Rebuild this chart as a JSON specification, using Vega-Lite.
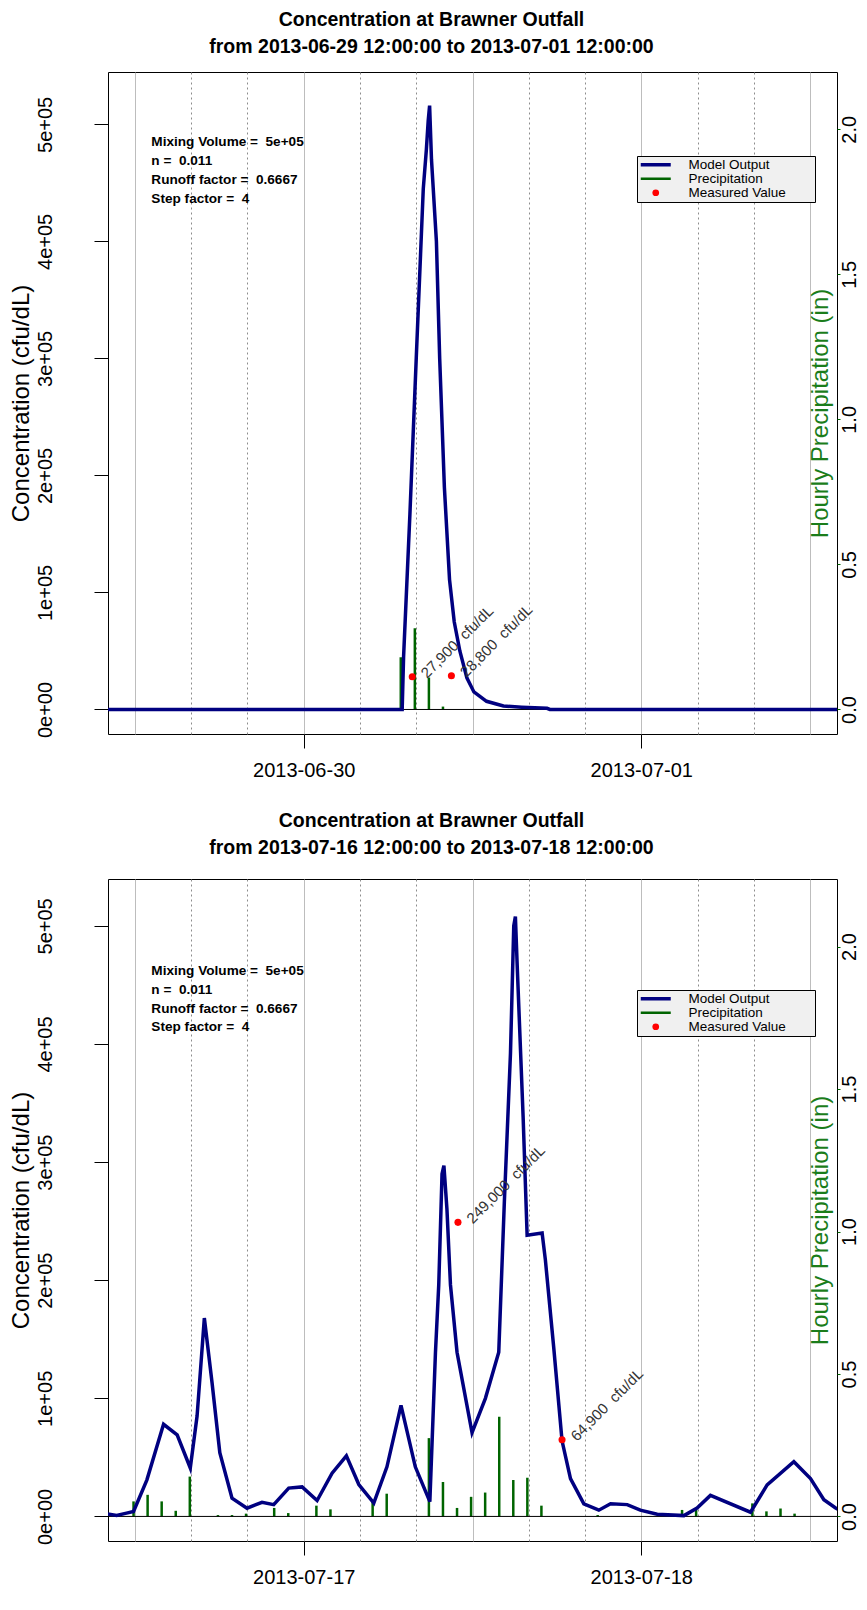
{
  "$schema": "https://vega.github.io/schema/vega-lite/v6.json",
  "background": "white",
  "padding": {"left": 8, "top": 9, "right": 4, "bottom": 4},
  "config": {
    "font": "Liberation Sans",
    "view": {"stroke": "black", "strokeWidth": 1},
    "axis": {"labelFont": "Liberation Sans", "titleFont": "Liberation Sans", "labelColor": "black", "titleColor": "black", "titleFontWeight": "normal", "labelFontSize": 20, "titleFontSize": 24, "tickColor": "black", "domain": false, "grid": false},
    "title": {"font": "Liberation Sans", "fontSize": 19.5, "fontWeight": "bold", "color": "black", "lineHeight": 27, "offset": 15, "anchor": "middle", "frame": "group", "dx": -41}
  },
  "datasets": {
    "one": [{}],
    "model1": [
      {"time": "2013-06-29T10:00:00", "conc": 0},
      {"time": "2013-06-30T07:00:00", "conc": 0},
      {"time": "2013-06-30T07:06:00", "conc": 45000},
      {"time": "2013-06-30T07:33:00", "conc": 167000},
      {"time": "2013-06-30T08:00:00", "conc": 300000},
      {"time": "2013-06-30T08:30:00", "conc": 445000},
      {"time": "2013-06-30T08:43:00", "conc": 478000},
      {"time": "2013-06-30T08:51:00", "conc": 503000},
      {"time": "2013-06-30T08:57:00", "conc": 516000},
      {"time": "2013-06-30T09:05:00", "conc": 470000},
      {"time": "2013-06-30T09:26:00", "conc": 400000},
      {"time": "2013-06-30T09:40:00", "conc": 300000},
      {"time": "2013-06-30T10:00:00", "conc": 190000},
      {"time": "2013-06-30T10:22:00", "conc": 111000},
      {"time": "2013-06-30T10:42:00", "conc": 75000},
      {"time": "2013-06-30T11:06:00", "conc": 50000},
      {"time": "2013-06-30T11:36:00", "conc": 27000},
      {"time": "2013-06-30T12:06:00", "conc": 15000},
      {"time": "2013-06-30T13:00:00", "conc": 7000},
      {"time": "2013-06-30T14:12:00", "conc": 3000},
      {"time": "2013-06-30T15:30:00", "conc": 2000},
      {"time": "2013-06-30T17:18:00", "conc": 1000},
      {"time": "2013-06-30T17:30:00", "conc": 0},
      {"time": "2013-07-01T14:00:00", "conc": 0}
    ],
    "precip1": [
      {"time": "2013-06-30T06:54:00", "precip": 0.18},
      {"time": "2013-06-30T07:54:00", "precip": 0.28},
      {"time": "2013-06-30T08:54:00", "precip": 0.11},
      {"time": "2013-06-30T09:54:00", "precip": 0.01}
    ],
    "meas1": [
      {"time": "2013-06-30T07:43:00", "conc": 27900, "label": "27,900\u00a0 cfu/dL"},
      {"time": "2013-06-30T10:30:00", "conc": 28800, "label": "28,800\u00a0 cfu/dL"}
    ],
    "model2": [
      {"time": "2013-07-16T10:00:00", "conc": 2300},
      {"time": "2013-07-16T10:42:00", "conc": 900},
      {"time": "2013-07-16T11:24:00", "conc": 2800},
      {"time": "2013-07-16T11:54:00", "conc": 4200},
      {"time": "2013-07-16T12:51:00", "conc": 31000},
      {"time": "2013-07-16T14:02:00", "conc": 78000},
      {"time": "2013-07-16T15:00:00", "conc": 69000},
      {"time": "2013-07-16T15:56:00", "conc": 41000},
      {"time": "2013-07-16T16:25:00", "conc": 85000},
      {"time": "2013-07-16T16:56:00", "conc": 168000},
      {"time": "2013-07-16T17:29:00", "conc": 113000},
      {"time": "2013-07-16T18:02:00", "conc": 54000},
      {"time": "2013-07-16T18:54:00", "conc": 15500},
      {"time": "2013-07-16T19:58:00", "conc": 7000},
      {"time": "2013-07-16T21:02:00", "conc": 12000},
      {"time": "2013-07-16T21:52:00", "conc": 10000},
      {"time": "2013-07-16T22:56:00", "conc": 24000},
      {"time": "2013-07-16T23:53:00", "conc": 25000},
      {"time": "2013-07-17T00:57:00", "conc": 13500},
      {"time": "2013-07-17T02:01:00", "conc": 36600},
      {"time": "2013-07-17T03:02:00", "conc": 51300},
      {"time": "2013-07-17T03:55:00", "conc": 27000},
      {"time": "2013-07-17T04:59:00", "conc": 11300},
      {"time": "2013-07-17T05:55:00", "conc": 42000},
      {"time": "2013-07-17T06:55:00", "conc": 94000},
      {"time": "2013-07-17T07:56:00", "conc": 42000},
      {"time": "2013-07-17T08:58:00", "conc": 12500},
      {"time": "2013-07-17T09:22:00", "conc": 139000},
      {"time": "2013-07-17T09:36:00", "conc": 196000},
      {"time": "2013-07-17T09:50:00", "conc": 290000},
      {"time": "2013-07-17T09:58:00", "conc": 297000},
      {"time": "2013-07-17T10:11:00", "conc": 260000},
      {"time": "2013-07-17T10:26:00", "conc": 196000},
      {"time": "2013-07-17T10:54:00", "conc": 139000},
      {"time": "2013-07-17T11:58:00", "conc": 71000},
      {"time": "2013-07-17T12:55:00", "conc": 100000},
      {"time": "2013-07-17T13:52:00", "conc": 139000},
      {"time": "2013-07-17T14:16:00", "conc": 267000},
      {"time": "2013-07-17T14:42:00", "conc": 392000},
      {"time": "2013-07-17T14:56:00", "conc": 500000},
      {"time": "2013-07-17T15:03:00", "conc": 508000},
      {"time": "2013-07-17T15:10:00", "conc": 470000},
      {"time": "2013-07-17T15:36:00", "conc": 338000},
      {"time": "2013-07-17T15:53:00", "conc": 238000},
      {"time": "2013-07-17T16:57:00", "conc": 240000},
      {"time": "2013-07-17T17:11:00", "conc": 217000},
      {"time": "2013-07-17T17:47:00", "conc": 142000},
      {"time": "2013-07-17T18:22:00", "conc": 64000},
      {"time": "2013-07-17T18:58:00", "conc": 32000},
      {"time": "2013-07-17T19:55:00", "conc": 10700},
      {"time": "2013-07-17T20:59:00", "conc": 5300},
      {"time": "2013-07-17T21:49:00", "conc": 10700},
      {"time": "2013-07-17T23:00:00", "conc": 10000},
      {"time": "2013-07-17T23:56:00", "conc": 5300},
      {"time": "2013-07-18T01:08:00", "conc": 1800},
      {"time": "2013-07-18T03:02:00", "conc": 700},
      {"time": "2013-07-18T03:58:00", "conc": 7100},
      {"time": "2013-07-18T04:55:00", "conc": 17800},
      {"time": "2013-07-18T07:46:00", "conc": 3600},
      {"time": "2013-07-18T08:57:00", "conc": 26700},
      {"time": "2013-07-18T10:51:00", "conc": 46300},
      {"time": "2013-07-18T12:02:00", "conc": 32000},
      {"time": "2013-07-18T12:59:00", "conc": 14200},
      {"time": "2013-07-18T13:49:00", "conc": 7100},
      {"time": "2013-07-18T14:00:00", "conc": 6000}
    ],
    "precip2": [
      {"time": "2013-07-16T11:54:00", "precip": 0.053},
      {"time": "2013-07-16T12:54:00", "precip": 0.076},
      {"time": "2013-07-16T13:54:00", "precip": 0.053},
      {"time": "2013-07-16T14:54:00", "precip": 0.02},
      {"time": "2013-07-16T15:54:00", "precip": 0.14},
      {"time": "2013-07-16T17:54:00", "precip": 0.005},
      {"time": "2013-07-16T18:54:00", "precip": 0.005},
      {"time": "2013-07-16T19:54:00", "precip": 0.01},
      {"time": "2013-07-16T21:54:00", "precip": 0.03},
      {"time": "2013-07-16T22:54:00", "precip": 0.012},
      {"time": "2013-07-17T00:54:00", "precip": 0.038},
      {"time": "2013-07-17T01:54:00", "precip": 0.025},
      {"time": "2013-07-17T04:54:00", "precip": 0.058},
      {"time": "2013-07-17T05:54:00", "precip": 0.08},
      {"time": "2013-07-17T08:54:00", "precip": 0.275},
      {"time": "2013-07-17T09:54:00", "precip": 0.121},
      {"time": "2013-07-17T10:54:00", "precip": 0.03},
      {"time": "2013-07-17T11:54:00", "precip": 0.069},
      {"time": "2013-07-17T12:54:00", "precip": 0.084},
      {"time": "2013-07-17T13:54:00", "precip": 0.35},
      {"time": "2013-07-17T14:54:00", "precip": 0.128},
      {"time": "2013-07-17T15:54:00", "precip": 0.136},
      {"time": "2013-07-17T16:54:00", "precip": 0.038},
      {"time": "2013-07-17T20:54:00", "precip": 0.005},
      {"time": "2013-07-18T02:54:00", "precip": 0.023},
      {"time": "2013-07-18T03:54:00", "precip": 0.023},
      {"time": "2013-07-18T07:54:00", "precip": 0.046},
      {"time": "2013-07-18T08:54:00", "precip": 0.018},
      {"time": "2013-07-18T09:54:00", "precip": 0.028},
      {"time": "2013-07-18T10:54:00", "precip": 0.01}
    ],
    "meas2": [
      {"time": "2013-07-17T10:58:00", "conc": 249000, "label": "249,000\u00a0 cfu/dL"},
      {"time": "2013-07-17T18:22:00", "conc": 64900, "label": "64,900\u00a0 cfu/dL"}
    ]
  },
  "resolve": {"scale": {"x": "independent", "y": "independent", "color": "independent"}, "legend": {"color": "independent"}},
  "spacing": 29,
  "vconcat": [
    {
      "width": 729,
      "height": 662,
      "title": {"text": ["Concentration at Brawner Outfall", "from 2013-06-29 12:00:00 to 2013-07-01 12:00:00"]},
      "resolve": {"scale": {"y": "independent"}},
      "layer": [
        {
          "data": {"name": "model1"},
          "mark": {"type": "line", "strokeWidth": 3.5, "clip": true, "opacity": 0},
          "encoding": {
            "x": {"field": "time", "type": "temporal", "title": null,
              "scale": {"domain": [{"year": 2013, "month": 6, "date": 29, "hours": 10, "minutes": 5}, {"year": 2013, "month": 7, "date": 1, "hours": 13, "minutes": 55}]},
              "axis": {
                "values": [
                  {"year": 2013, "month": 6, "date": 29, "hours": 12}, {"year": 2013, "month": 6, "date": 29, "hours": 16}, {"year": 2013, "month": 6, "date": 29, "hours": 20},
                  {"year": 2013, "month": 6, "date": 30, "hours": 0}, {"year": 2013, "month": 6, "date": 30, "hours": 4}, {"year": 2013, "month": 6, "date": 30, "hours": 8},
                  {"year": 2013, "month": 6, "date": 30, "hours": 12}, {"year": 2013, "month": 6, "date": 30, "hours": 16}, {"year": 2013, "month": 6, "date": 30, "hours": 20},
                  {"year": 2013, "month": 7, "date": 1, "hours": 0}, {"year": 2013, "month": 7, "date": 1, "hours": 4}, {"year": 2013, "month": 7, "date": 1, "hours": 8},
                  {"year": 2013, "month": 7, "date": 1, "hours": 12}
                ],
                "grid": true, "gridWidth": 1,
                "gridColor": {"condition": {"test": "hours(datum.value) % 12 === 0", "value": "#a6a6a6"}, "value": "#8c8c8c"},
                "gridDash": {"condition": {"test": "hours(datum.value) % 12 === 0", "value": [1, 0]}, "value": [2, 3]},
                "tickOpacity": {"condition": {"test": "hours(datum.value) === 0", "value": 1}, "value": 0},
                "tickSize": 14, "labelPadding": 12,
                "labelExpr": "hours(datum.value) === 0 ? timeFormat(datum.value, '%Y-%m-%d') : ''",
                "labelOverlap": false, "labelFlush": false, "labelBound": false
              }},
            "y": {"field": "conc", "type": "quantitative", "scale": {"domain": [-20950, 544750], "nice": false, "zero": false},
              "axis": {"orient": "left", "values": [0, 100000, 200000, 300000, 400000, 500000], "labelExpr": "replace(format(datum.value, '.0e'), 'e+', 'e+0')", "labelAngle": -90, "labelAlign": "center", "labelBaseline": "bottom", "labelPadding": 39, "tickSize": 14, "title": "Concentration (cfu/dL)", "titlePadding": 2}},
            "color": {"datum": "Model Output", "type": "nominal", "scale": {"domain": ["Model Output", "Precipitation", "Measured Value"], "range": ["#000080", "#006400", "#ff0000"]},
              "legend": {"orient": "none", "legendX": 529, "legendY": 84, "title": "xxxx", "titleOrient": "right", "titleOpacity": 0, "titlePadding": 0, "titleFontSize": 13.5, "titleFontWeight": "normal", "fillColor": "#f0f0f0", "strokeColor": "black", "padding": 2, "labelFontSize": 13.5, "labelFont": "Liberation Sans", "labelColor": "black", "symbolSize": 150, "symbolOffset": 10, "labelOffset": 26, "rowPadding": -1,
                "encode": {
                  "symbols": {"update": {
                  "shape": {"signal": "datum.value === 'Measured Value' ? 'circle' : 'stroke'"},
                  "size": {"signal": "datum.value === 'Measured Value' ? 45 : 900"},
                  "stroke": {"signal": "datum.value === 'Model Output' ? '#000080' : datum.value === 'Precipitation' ? '#006400' : '#ff0000'"},
                  "fill": {"signal": "datum.value === 'Measured Value' ? '#ff0000' : 'transparent'"},
                  "strokeWidth": {"signal": "datum.value === 'Model Output' ? 3.5 : datum.value === 'Precipitation' ? 2.5 : 0"},
                  "opacity": {"value": 1}
                }}}}}
          }
        },
        {
          "data": {"name": "precip1"},
          "mark": {"type": "rule", "strokeWidth": 2.5},
          "encoding": {
            "x": {"field": "time", "type": "temporal", "scale": {"domain": [{"year": 2013, "month": 6, "date": 29, "hours": 10, "minutes": 5}, {"year": 2013, "month": 7, "date": 1, "hours": 13, "minutes": 55}]}},
            "y": {"field": "precip", "type": "quantitative", "scale": {"domain": [-0.0845, 2.1975], "nice": false, "zero": false},
              "axis": {"orient": "right", "values": [0, 0.5, 1, 1.5, 2], "format": ".1f", "labelAngle": -90, "labelAlign": "center", "labelBaseline": "top", "tickSize": 3, "tickColor": "#006400", "labelPadding": -1, "title": "Hourly Precipitation (in)", "titleColor": "#1b7d1b", "titleAngle": 270, "titleX": -17, "titleY": 341, "titleAlign": "center", "titleBaseline": "middle"}},
            "y2": {"datum": 0},
            "color": {"datum": "Precipitation", "type": "nominal", "scale": {"domain": ["Model Output", "Precipitation", "Measured Value"], "range": ["#000080", "#006400", "#ff0000"]}}
          }
        },
        {
          "data": {"name": "one"},
          "mark": {"type": "rule", "color": "black", "strokeWidth": 1},
          "encoding": {
            "y": {"datum": 0, "type": "quantitative", "axis": null, "scale": {"domain": [-20950, 544750], "nice": false, "zero": false}}
          }
        },
        {
          "data": {"name": "model1"},
          "mark": {"type": "line", "strokeWidth": 3.5, "clip": true},
          "encoding": {
            "x": {"field": "time", "type": "temporal", "scale": {"domain": [{"year": 2013, "month": 6, "date": 29, "hours": 10, "minutes": 5}, {"year": 2013, "month": 7, "date": 1, "hours": 13, "minutes": 55}]}},
            "y": {"field": "conc", "type": "quantitative", "axis": null, "scale": {"domain": [-20950, 544750], "nice": false, "zero": false}},
            "color": {"datum": "Model Output", "type": "nominal", "scale": {"domain": ["Model Output", "Precipitation", "Measured Value"], "range": ["#000080", "#006400", "#ff0000"]}}
          }
        },
        {
          "data": {"name": "meas1"},
          "mark": {"type": "point", "filled": true, "size": 50, "opacity": 1},
          "encoding": {
            "x": {"field": "time", "type": "temporal", "scale": {"domain": [{"year": 2013, "month": 6, "date": 29, "hours": 10, "minutes": 5}, {"year": 2013, "month": 7, "date": 1, "hours": 13, "minutes": 55}]}},
            "y": {"field": "conc", "type": "quantitative", "axis": null, "scale": {"domain": [-20950, 544750], "nice": false, "zero": false}},
            "color": {"datum": "Measured Value", "type": "nominal", "scale": {"domain": ["Model Output", "Precipitation", "Measured Value"], "range": ["#000080", "#006400", "#ff0000"]}}
          }
        },
        {
          "data": {"name": "meas1"},
          "mark": {"type": "text", "angle": -45, "align": "left", "baseline": "middle", "dx": 9, "dy": 7, "fontSize": 15, "color": "#333333"},
          "encoding": {
            "x": {"field": "time", "type": "temporal", "scale": {"domain": [{"year": 2013, "month": 6, "date": 29, "hours": 10, "minutes": 5}, {"year": 2013, "month": 7, "date": 1, "hours": 13, "minutes": 55}]}},
            "y": {"field": "conc", "type": "quantitative", "axis": null, "scale": {"domain": [-20950, 544750], "nice": false, "zero": false}},
            "text": {"field": "label"}
          }
        },
        {
          "data": {"name": "one"},
          "mark": {"type": "text", "align": "left", "baseline": "top", "fontWeight": "bold", "fontSize": 13.6, "lineHeight": 18.7, "color": "black",
            "text": ["Mixing Volume =\u00a0 5e+05", "n =\u00a0 0.011", "Runoff factor =\u00a0 0.6667", "Step factor =\u00a0 4"]},
          "encoding": {
            "x": {"datum": {"year": 2013, "month": 6, "date": 29, "hours": 13, "minutes": 10}, "type": "temporal", "scale": {"domain": [{"year": 2013, "month": 6, "date": 29, "hours": 10, "minutes": 5}, {"year": 2013, "month": 7, "date": 1, "hours": 13, "minutes": 55}]}},
            "y": {"datum": 490500, "type": "quantitative", "axis": null, "scale": {"domain": [-20950, 544750], "nice": false, "zero": false}}
          }
        }
      ]
    },
    {
      "width": 729,
      "height": 662,
      "title": {"text": ["Concentration at Brawner Outfall", "from 2013-07-16 12:00:00 to 2013-07-18 12:00:00"], "offset": 21},
      "resolve": {"scale": {"y": "independent"}},
      "layer": [
        {
          "data": {"name": "model2"},
          "mark": {"type": "line", "strokeWidth": 3.5, "clip": true, "opacity": 0},
          "encoding": {
            "x": {"field": "time", "type": "temporal", "title": null,
              "scale": {"domain": [{"year": 2013, "month": 7, "date": 16, "hours": 10, "minutes": 5}, {"year": 2013, "month": 7, "date": 18, "hours": 13, "minutes": 55}]},
              "axis": {
                "values": [
                  {"year": 2013, "month": 7, "date": 16, "hours": 12}, {"year": 2013, "month": 7, "date": 16, "hours": 16}, {"year": 2013, "month": 7, "date": 16, "hours": 20},
                  {"year": 2013, "month": 7, "date": 17, "hours": 0}, {"year": 2013, "month": 7, "date": 17, "hours": 4}, {"year": 2013, "month": 7, "date": 17, "hours": 8},
                  {"year": 2013, "month": 7, "date": 17, "hours": 12}, {"year": 2013, "month": 7, "date": 17, "hours": 16}, {"year": 2013, "month": 7, "date": 17, "hours": 20},
                  {"year": 2013, "month": 7, "date": 18, "hours": 0}, {"year": 2013, "month": 7, "date": 18, "hours": 4}, {"year": 2013, "month": 7, "date": 18, "hours": 8},
                  {"year": 2013, "month": 7, "date": 18, "hours": 12}
                ],
                "grid": true, "gridWidth": 1,
                "gridColor": {"condition": {"test": "hours(datum.value) % 12 === 0", "value": "#a6a6a6"}, "value": "#8c8c8c"},
                "gridDash": {"condition": {"test": "hours(datum.value) % 12 === 0", "value": [1, 0]}, "value": [2, 3]},
                "tickOpacity": {"condition": {"test": "hours(datum.value) === 0", "value": 1}, "value": 0},
                "tickSize": 14, "labelPadding": 12,
                "labelExpr": "hours(datum.value) === 0 ? timeFormat(datum.value, '%Y-%m-%d') : ''",
                "labelOverlap": false, "labelFlush": false, "labelBound": false
              }},
            "y": {"field": "conc", "type": "quantitative", "scale": {"domain": [-20800, 539700], "nice": false, "zero": false},
              "axis": {"orient": "left", "values": [0, 100000, 200000, 300000, 400000, 500000], "labelExpr": "replace(format(datum.value, '.0e'), 'e+', 'e+0')", "labelAngle": -90, "labelAlign": "center", "labelBaseline": "bottom", "labelPadding": 39, "tickSize": 14, "title": "Concentration (cfu/dL)", "titlePadding": 2}},
            "color": {"datum": "Model Output", "type": "nominal", "scale": {"domain": ["Model Output", "Precipitation", "Measured Value"], "range": ["#000080", "#006400", "#ff0000"]},
              "legend": {"orient": "none", "legendX": 529, "legendY": 111, "title": "xxxx", "titleOrient": "right", "titleOpacity": 0, "titlePadding": 0, "titleFontSize": 13.5, "titleFontWeight": "normal", "fillColor": "#f0f0f0", "strokeColor": "black", "padding": 2, "labelFontSize": 13.5, "labelFont": "Liberation Sans", "labelColor": "black", "symbolSize": 150, "symbolOffset": 10, "labelOffset": 26, "rowPadding": -1,
                "encode": {
                  "symbols": {"update": {
                  "shape": {"signal": "datum.value === 'Measured Value' ? 'circle' : 'stroke'"},
                  "size": {"signal": "datum.value === 'Measured Value' ? 45 : 900"},
                  "stroke": {"signal": "datum.value === 'Model Output' ? '#000080' : datum.value === 'Precipitation' ? '#006400' : '#ff0000'"},
                  "fill": {"signal": "datum.value === 'Measured Value' ? '#ff0000' : 'transparent'"},
                  "strokeWidth": {"signal": "datum.value === 'Model Output' ? 3.5 : datum.value === 'Precipitation' ? 2.5 : 0"},
                  "opacity": {"value": 1}
                }}}}}
          }
        },
        {
          "data": {"name": "precip2"},
          "mark": {"type": "rule", "strokeWidth": 2.5},
          "encoding": {
            "x": {"field": "time", "type": "temporal", "scale": {"domain": [{"year": 2013, "month": 7, "date": 16, "hours": 10, "minutes": 5}, {"year": 2013, "month": 7, "date": 18, "hours": 13, "minutes": 55}]}},
            "y": {"field": "precip", "type": "quantitative", "scale": {"domain": [-0.086, 2.237], "nice": false, "zero": false},
              "axis": {"orient": "right", "values": [0, 0.5, 1, 1.5, 2], "format": ".1f", "labelAngle": -90, "labelAlign": "center", "labelBaseline": "top", "tickSize": 3, "tickColor": "#006400", "labelPadding": -1, "title": "Hourly Precipitation (in)", "titleColor": "#1b7d1b", "titleAngle": 270, "titleX": -17, "titleY": 341, "titleAlign": "center", "titleBaseline": "middle"}},
            "y2": {"datum": 0},
            "color": {"datum": "Precipitation", "type": "nominal", "scale": {"domain": ["Model Output", "Precipitation", "Measured Value"], "range": ["#000080", "#006400", "#ff0000"]}}
          }
        },
        {
          "data": {"name": "one"},
          "mark": {"type": "rule", "color": "black", "strokeWidth": 1},
          "encoding": {
            "y": {"datum": 0, "type": "quantitative", "axis": null, "scale": {"domain": [-20800, 539700], "nice": false, "zero": false}}
          }
        },
        {
          "data": {"name": "model2"},
          "mark": {"type": "line", "strokeWidth": 3.5, "clip": true},
          "encoding": {
            "x": {"field": "time", "type": "temporal", "scale": {"domain": [{"year": 2013, "month": 7, "date": 16, "hours": 10, "minutes": 5}, {"year": 2013, "month": 7, "date": 18, "hours": 13, "minutes": 55}]}},
            "y": {"field": "conc", "type": "quantitative", "axis": null, "scale": {"domain": [-20800, 539700], "nice": false, "zero": false}},
            "color": {"datum": "Model Output", "type": "nominal", "scale": {"domain": ["Model Output", "Precipitation", "Measured Value"], "range": ["#000080", "#006400", "#ff0000"]}}
          }
        },
        {
          "data": {"name": "meas2"},
          "mark": {"type": "point", "filled": true, "size": 50, "opacity": 1},
          "encoding": {
            "x": {"field": "time", "type": "temporal", "scale": {"domain": [{"year": 2013, "month": 7, "date": 16, "hours": 10, "minutes": 5}, {"year": 2013, "month": 7, "date": 18, "hours": 13, "minutes": 55}]}},
            "y": {"field": "conc", "type": "quantitative", "axis": null, "scale": {"domain": [-20800, 539700], "nice": false, "zero": false}},
            "color": {"datum": "Measured Value", "type": "nominal", "scale": {"domain": ["Model Output", "Precipitation", "Measured Value"], "range": ["#000080", "#006400", "#ff0000"]}}
          }
        },
        {
          "data": {"name": "meas2"},
          "mark": {"type": "text", "angle": -45, "align": "left", "baseline": "middle", "dx": 9, "dy": 7, "fontSize": 15, "color": "#333333"},
          "encoding": {
            "x": {"field": "time", "type": "temporal", "scale": {"domain": [{"year": 2013, "month": 7, "date": 16, "hours": 10, "minutes": 5}, {"year": 2013, "month": 7, "date": 18, "hours": 13, "minutes": 55}]}},
            "y": {"field": "conc", "type": "quantitative", "axis": null, "scale": {"domain": [-20800, 539700], "nice": false, "zero": false}},
            "text": {"field": "label"}
          }
        },
        {
          "data": {"name": "one"},
          "mark": {"type": "text", "align": "left", "baseline": "top", "fontWeight": "bold", "fontSize": 13.6, "lineHeight": 18.7, "color": "black",
            "text": ["Mixing Volume =\u00a0 5e+05", "n =\u00a0 0.011", "Runoff factor =\u00a0 0.6667", "Step factor =\u00a0 4"]},
          "encoding": {
            "x": {"datum": {"year": 2013, "month": 7, "date": 16, "hours": 13, "minutes": 10}, "type": "temporal", "scale": {"domain": [{"year": 2013, "month": 7, "date": 16, "hours": 10, "minutes": 5}, {"year": 2013, "month": 7, "date": 18, "hours": 13, "minutes": 55}]}},
            "y": {"datum": 467500, "type": "quantitative", "axis": null, "scale": {"domain": [-20800, 539700], "nice": false, "zero": false}}
          }
        }
      ]
    }
  ]
}
